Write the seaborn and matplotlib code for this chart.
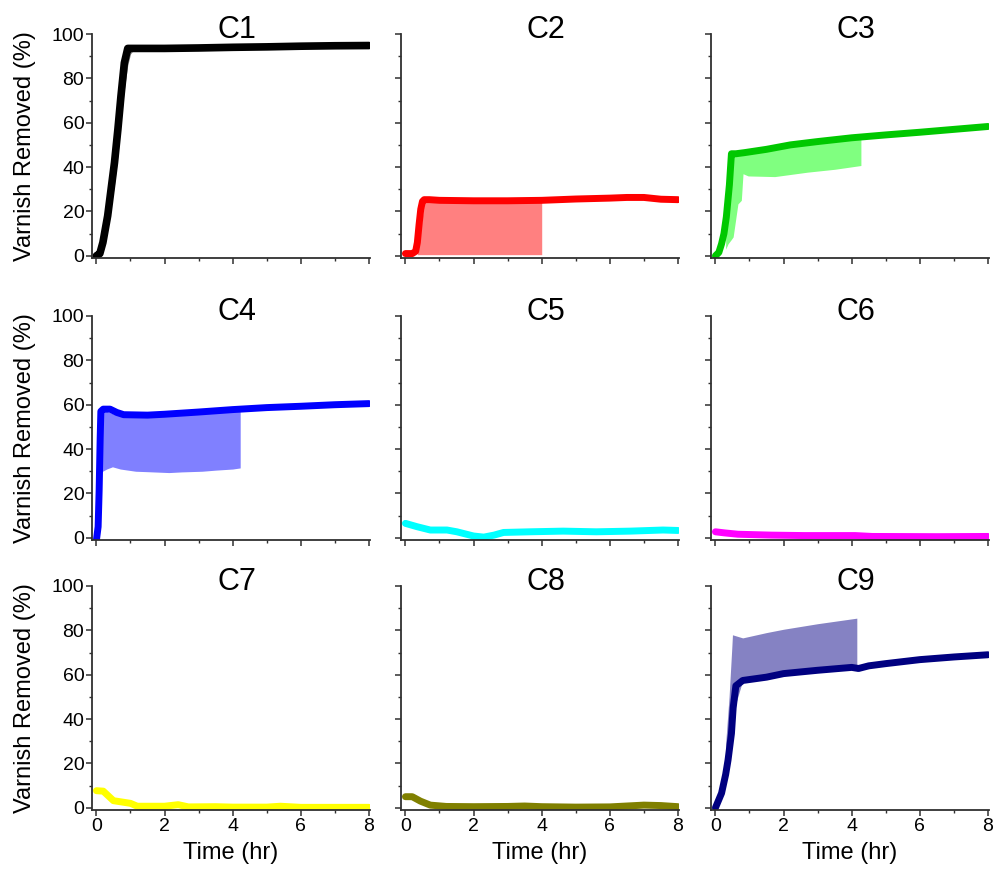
import matplotlib
matplotlib.use('Agg')
import matplotlib.pyplot as plt
from matplotlib.ticker import MultipleLocator
import seaborn as sns

# C1 - black
c1_t = [0, 0.1, 0.19, 0.33, 0.43, 0.53, 0.63, 0.72, 0.82, 0.92, 1.0, 2, 3, 4, 5, 6, 7, 8]
c1_y = [0, 1, 6, 18, 30, 42, 57, 72, 87, 93.5, 93.5, 93.5, 93.7, 94, 94.2, 94.5, 94.7, 94.8]
c1_band_t = [0.2, 0.33, 0.43, 0.53, 0.63, 0.72, 0.82, 0.92, 1.0, 1.1, 1.5, 2.0]
c1_band_lo = [2, 12, 22, 32, 45, 60, 75, 86, 91, 93, 93, 93]
c1_band_hi = [6, 18, 30, 42, 57, 72, 87, 94, 94.5, 94.5, 94.5, 94]

# C2 - red
c2_t = [0, 0.2, 0.3, 0.35, 0.4, 0.45, 0.5, 0.55, 0.7, 1, 2, 3, 4, 5, 6, 6.5, 7, 7.5, 8]
c2_y = [1, 1, 2, 6, 14, 21, 24.5, 25.3, 25.3, 25, 24.8, 24.8, 25, 25.6, 26, 26.3, 26.3, 25.5, 25.3]
c2_band_t = [0.35, 0.45, 0.55, 1, 2, 3, 4.0]
c2_band_lo = [0.5, 0.5, 0.5, 0.5, 0.5, 0.5, 0.5]
c2_band_hi = [1, 12, 24, 24, 24, 24, 24.5]

# C3 - green
c3_t = [0, 0.1, 0.18, 0.25, 0.32, 0.41, 0.47, 0.6, 0.85, 1.5, 2.2, 3, 4, 5, 6, 7, 8]
c3_y = [0, 1.5, 5.4, 10, 17.5, 32, 46, 46, 46.5, 48, 50, 51.5, 53.2, 54.5, 55.7, 57, 58.3]
c3_band_t = [0.3, 0.37, 0.45, 0.52, 0.66, 0.76, 0.81, 0.96, 1.74, 2.7, 3.5, 4.27]
c3_band_lo = [3, 5.4, 7, 8.5, 23.4, 25, 37, 36, 35.7, 37.7, 39, 40.7]
c3_band_hi = [14, 28, 44, 46, 46, 46.3, 46.4, 46.8, 48.5, 51, 52.5, 53.5]

# C4 - blue
c4_t = [0, 0.05, 0.08, 0.11, 0.13, 0.2, 0.4, 0.6, 0.8, 1.5, 2, 3, 4, 5, 6, 7, 8]
c4_y = [-1, 5, 21.6, 45, 57, 58, 58, 56.5, 55.5, 55.3, 55.7, 56.7, 57.8, 58.7, 59.3, 60, 60.5]
c4_band_t = [0.1, 0.18, 0.3, 0.47, 0.7, 1.15, 1.5, 2.13, 2.5, 3.1, 3.5, 4.0, 4.22]
c4_band_lo = [28, 30, 31, 32, 31, 30, 29.8, 29.4, 29.7, 30, 30.5, 31, 31.5]
c4_band_hi = [40, 57, 57, 56, 55, 54.5, 54.5, 55, 55.5, 56, 56.5, 57, 57.5]

# C5 - cyan
c5_t = [0, 0.34, 0.73, 1.22, 1.51, 2.0, 2.3, 2.6, 2.88, 3.66, 4.63, 5.6, 6.6, 7.56, 8]
c5_y = [6.5, 5, 3.5, 3.5, 2.7, 0.8, 0.3, 1.2, 2.4, 2.7, 3, 2.7, 3, 3.5, 3.3]

# C6 - magenta
c6_t = [0, 0.27, 0.66, 1.64, 2.6, 4.1, 4.6, 6.5, 8]
c6_y = [2.7, 2.2, 1.6, 1.2, 1.0, 1.0, 0.6, 0.5, 0.6]

# C7 - yellow
c7_t = [0, 0.2, 0.5, 1.0, 1.2, 2.0, 2.4, 2.7, 3.5, 4, 5, 5.4, 6, 7, 8]
c7_y = [7.7, 7.5, 3.2, 2, 0.7, 0.7, 1.4, 0.4, 0.5, 0.3, 0.3, 0.7, 0.2, 0.2, 0.2]

# C8 - olive
c8_t = [0, 0.2, 0.44, 0.73, 1.2, 2, 3, 3.5, 4, 5, 6, 7, 7.5, 8]
c8_y = [5, 5, 3, 1.2, 0.6, 0.5, 0.6, 0.8, 0.5, 0.3, 0.4, 1.2, 1.0, 0.5]

# C9 - navy
c9_t = [0, 0.18, 0.3, 0.37, 0.47, 0.52, 0.6, 0.8, 1.5, 2, 3, 4, 4.2, 4.5, 5, 6, 7, 8]
c9_y = [0, 6.6, 15, 21.5, 33.5, 45, 55, 57.4, 58.9, 60.5, 62, 63.3, 62.8, 64, 65, 66.8, 68, 69]
c9_band_t = [0.3, 0.4, 0.48, 0.5, 0.8, 1.5, 2, 3, 4.15]
c9_band_lo = [15, 27, 38, 42, 57.4, 58.9, 60.5, 62, 63.3]
c9_band_hi = [29, 50, 72, 78, 76.6, 79, 80.5, 83, 85.5]

titles = ['C1', 'C2', 'C3', 'C4', 'C5', 'C6', 'C7', 'C8', 'C9']
line_colors = ['#000000', '#FF0000', '#00C800', '#0000FF', '#00FFFF',
               '#FF00FF', '#FFFF00', '#808000', '#000080']
band_colors = ['#808080', '#FF8080', '#80FF80', '#8080FF', None,
               None, None, None, '#8582C3']

series = [(c1_t, c1_y), (c2_t, c2_y), (c3_t, c3_y), (c4_t, c4_y), (c5_t, c5_y),
          (c6_t, c6_y), (c7_t, c7_y), (c8_t, c8_y), (c9_t, c9_y)]
bands = [(c1_band_t, c1_band_lo, c1_band_hi), (c2_band_t, c2_band_lo, c2_band_hi),
         (c3_band_t, c3_band_lo, c3_band_hi), (c4_band_t, c4_band_lo, c4_band_hi),
         None, None, None, None, (c9_band_t, c9_band_lo, c9_band_hi)]

sns.set_style('ticks')
plt.rcParams['font.family'] = ['Liberation Sans', 'DejaVu Sans']

fig = plt.figure(figsize=(9.95, 8.73), dpi=100)
FW, FH = 995, 873
col_left = [92, 401, 711]
row_top = [34, 316, 586]
W, H = 278, 224
spine_col = '#303030'

for i in range(9):
    r, c = divmod(i, 3)
    ax = fig.add_axes([col_left[c] / FW, 1 - (row_top[r] + H) / FH, W / FW, H / FH])
    if bands[i] is not None:
        bt, blo, bhi = bands[i]
        ax.fill_between(bt, blo, bhi, color=band_colors[i], lw=0, zorder=1)
    t, y = series[i]
    sns.lineplot(x=t, y=y, color=line_colors[i], lw=5.5 if i == 0 else 5,
                 ax=ax, zorder=2, estimator=None, sort=False)
    ax.set_xlim(-0.13, 8.03)
    ax.set_ylim(-1, 100)
    ax.xaxis.set_major_locator(MultipleLocator(2))
    ax.xaxis.set_minor_locator(MultipleLocator(1))
    ax.yaxis.set_major_locator(MultipleLocator(20))
    ax.yaxis.set_minor_locator(MultipleLocator(10))
    sns.despine(ax=ax)
    for s in ['left', 'bottom']:
        ax.spines[s].set_color(spine_col)
        ax.spines[s].set_linewidth(1.3)
    ax.tick_params(which='major', length=4, width=1.1, color=spine_col,
                   labelsize=14, labelcolor='black', pad=1.5)
    ax.tick_params(which='minor', length=2.2, width=1.0, color=spine_col)
    if c != 0:
        ax.tick_params(axis='y', labelleft=False)
        ax.set_ylabel('')
    else:
        ax.set_ylabel('Varnish Removed (%)', fontsize=17, color='black')
        ax.yaxis.set_label_coords(-0.2, 0.5)
    if r != 2:
        ax.tick_params(axis='x', labelbottom=False)
        ax.set_xlabel('')
    else:
        ax.set_xlabel('Time (hr)', fontsize=17, color='black')
        ax.xaxis.set_label_coords(0.5, -0.145)
    ax.text(0.52, 1 + 4 / H, titles[i], transform=ax.transAxes,
            ha='center', va='center', fontsize=22, color='black')

fig.savefig('out.png', dpi=100)
